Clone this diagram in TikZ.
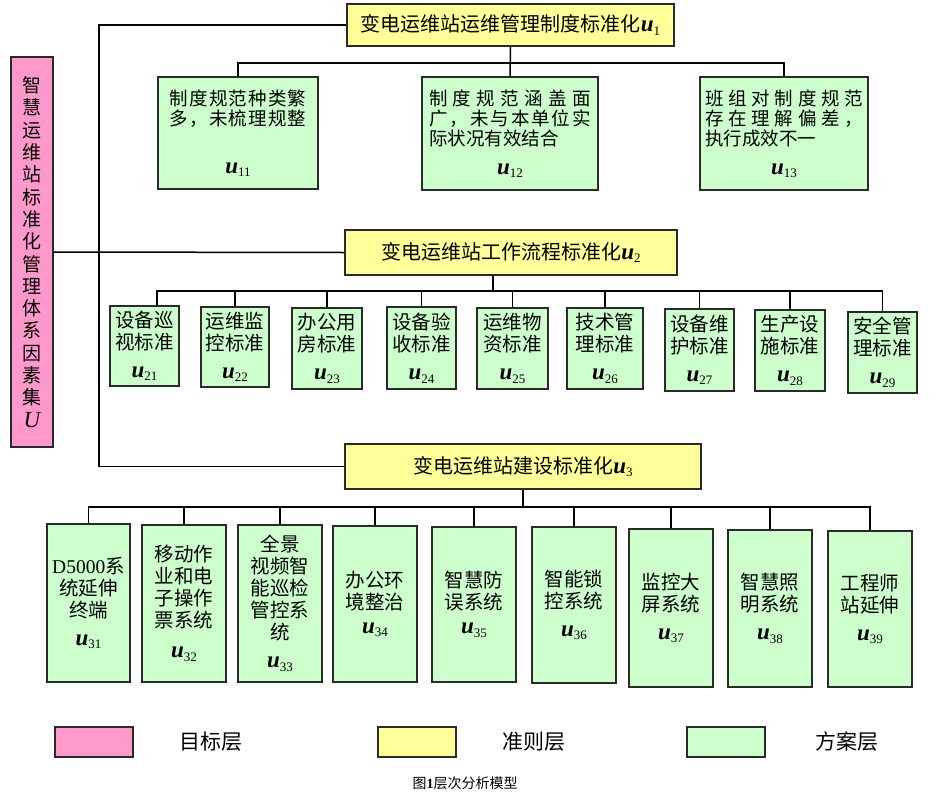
\documentclass[tikz,border=0pt]{standalone}
\usepackage{fontspec}
\setmainfont{Liberation Serif}
\newfontfamily\cjk{Noto Sans CJK SC}
\definecolor{pinkf}{HTML}{FF99CC}
\definecolor{yelf}{HTML}{FFFF99}
\definecolor{grnf}{HTML}{CCFFCC}
\definecolor{edgec}{HTML}{2A2A2A}
\newcommand\ulab[1]{{\rmfamily\fontsize{23}{23}\selectfont\bfseries\itshape u}{\rmfamily\fontsize{13}{13}\selectfont\raisebox{-3.5pt}{#1}}}
\tikzset{
  basebox/.style={draw=edgec, line width=1.5pt, inner sep=0pt, align=center},
  ybox/.style={basebox, fill=yelf, font=\cjk\fontsize{20}{22}\selectfont},
  gbox/.style={basebox, fill=grnf, font=\cjk\fontsize{19.5}{22}\selectfont},
  g1box/.style={basebox, fill=grnf, font=\cjk\fontsize{18.5}{20}\selectfont},
  pbox/.style={basebox, fill=pinkf, font=\cjk\fontsize{19}{22.3}\selectfont},
  conn/.style={line width=1.5pt, black},
  legbox/.style={draw=edgec, line width=2pt, minimum width=78pt, minimum height=30pt, inner sep=0pt},
  legtext/.style={font=\cjk\fontsize{21}{23}\selectfont, inner sep=0pt}
}
\begin{document}
\begin{tikzpicture}[x=1pt,y=-1pt]
\useasboundingbox[fill=white] (0,0) rectangle (933,795);

% top level
\node[ybox, minimum width=327pt, minimum height=42pt] (u1) at (510.5,25) {变电运维站运维管理制度标准化\ulab{1}};
\node[ybox, minimum width=332pt, minimum height=45pt] (u2) at (511,252.5) {变电运维站工作流程标准化\ulab{2}};
\node[ybox, minimum width=356pt, minimum height=45pt] (u3) at (523,466.5) {变电运维站建设标准化\ulab{3}};
\node[pbox, minimum width=42pt, minimum height=390pt] (U) at (32,252) {智\\慧\\运\\维\\站\\标\\准\\化\\管\\理\\体\\系\\因\\素\\集\\{\rmfamily\fontsize{23}{23}\selectfont\itshape U}};

% row 1
\node[g1box, minimum width=160pt, minimum height=112pt] (u11) at (238,133)
  {\makebox[137pt]{制\hfill 度\hfill 规\hfill 范\hfill 种\hfill 类\hfill 繁}\\
   \makebox[137pt]{多\hfill ，\hfill 未\hfill 梳\hfill 理\hfill 规\hfill 整}\\[28pt]
   \ulab{11}};
\node[g1box, minimum width=176pt, minimum height=113pt] (u12) at (510,133.5)
  {\makebox[162pt]{制\hfill 度\hfill 规\hfill 范\hfill 涵\hfill 盖\hfill 面}\\
   \makebox[162pt]{广\hfill ，\hfill 未\hfill 与\hfill 本\hfill 单\hfill 位\hfill 实}\\
   \makebox[162pt][l]{际状况有效结合}\\[9pt]
   \ulab{12}};
\node[g1box, minimum width=168pt, minimum height=113pt] (u13) at (784,133.5)
  {\makebox[158pt]{班\hfill 组\hfill 对\hfill 制\hfill 度\hfill 规\hfill 范}\\
   \makebox[158pt]{存\hfill 在\hfill 理\hfill 解\hfill 偏\hfill 差\hfill ，}\\
   \makebox[158pt][l]{执行成效不一}\\[9pt]
   \ulab{13}};

% row 2
\node[gbox, minimum width=69pt, minimum height=80pt] (u21) at (144.5,346) {设备巡\\视标准\\[6pt]\ulab{21}};
\node[gbox, minimum width=68pt, minimum height=80pt] (u22) at (235,347) {运维监\\控标准\\[6pt]\ulab{22}};
\node[gbox, minimum width=70pt, minimum height=81pt] (u23) at (327,348.5) {办公用\\房标准\\[6pt]\ulab{23}};
\node[gbox, minimum width=69pt, minimum height=82pt] (u24) at (421.5,348) {设备验\\收标准\\[6pt]\ulab{24}};
\node[gbox, minimum width=71pt, minimum height=81pt] (u25) at (512.5,348.5) {运维物\\资标准\\[6pt]\ulab{25}};
\node[gbox, minimum width=76pt, minimum height=81pt] (u26) at (605,348.5) {技术管\\理标准\\[6pt]\ulab{26}};
\node[gbox, minimum width=69pt, minimum height=82pt] (u27) at (699.5,350) {设备维\\护标准\\[6pt]\ulab{27}};
\node[gbox, minimum width=70pt, minimum height=81pt] (u28) at (790,350.5) {生产设\\施标准\\[6pt]\ulab{28}};
\node[gbox, minimum width=69pt, minimum height=81pt] (u29) at (882.5,352.5) {安全管\\理标准\\[6pt]\ulab{29}};

% row 3
\node[gbox, minimum width=83pt, minimum height=158pt] (u31) at (88.5,603) {{\rmfamily D5000}系\\统延伸\\终端\\[6pt]\ulab{31}};
\node[gbox, minimum width=84pt, minimum height=157pt] (u32) at (184,603.5) {移动作\\业和电\\子操作\\票系统\\[8pt]\ulab{32}};
\node[gbox, minimum width=84pt, minimum height=157pt] (u33) at (280,603.5) {全景\\视频智\\能巡检\\管控系\\统\\[6pt]\ulab{33}};
\node[gbox, minimum width=84pt, minimum height=156pt] (u34) at (375,604) {办公环\\境整治\\[2pt]\ulab{34}};
\node[gbox, minimum width=84pt, minimum height=155pt] (u35) at (474,604.5) {智慧防\\误系统\\[2pt]\ulab{35}};
\node[gbox, minimum width=84pt, minimum height=156pt] (u36) at (574,605) {智能锁\\控系统\\[6pt]\ulab{36}};
\node[gbox, minimum width=84pt, minimum height=158pt] (u37) at (671,608) {监控大\\屏系统\\[6pt]\ulab{37}};
\node[gbox, minimum width=84pt, minimum height=157pt] (u38) at (770,608.5) {智慧照\\明系统\\[6pt]\ulab{38}};
\node[gbox, minimum width=84pt, minimum height=156pt] (u39) at (870,609) {工程师\\站延伸\\[6pt]\ulab{39}};

% connectors
\coordinate (sp) at (99,0);
\coordinate (b1) at (0,63);
\coordinate (b2) at (0,291);
\coordinate (b3) at (0,507);
\draw[conn] (u1.west) -| (sp |- u3.west) -- (u3.west);
\draw[conn] (U.east) -- (u2.west);
% row 1
\draw[conn] (u1.south) -- (u12.north);
\draw[conn] (u11.north) -- (u11.north |- b1) -- (u13.north |- b1) -- (u13.north);
% row 2
\draw[conn] ([xshift=-18pt]u2.south) -- ([xshift=-18pt]u2.south |- b2);
\draw[conn] ([xshift=12.5pt]u21.north) -- ([xshift=12.5pt]u21.north |- b2) -- (u29.north |- b2) -- (u29.north);
\foreach \n in {u22,u23,u24,u25,u26,u27,u28}{
  \draw[conn] (\n.north) -- (\n.north |- b2);
}
% row 3
\draw[conn] (u3.south) -- (u3.south |- b3);
\draw[conn] (u31.north) -- (u31.north |- b3) -- (u39.north |- b3) -- (u39.north);
\foreach \n in {u32,u33,u34,u35,u36,u37,u38}{
  \draw[conn] (\n.north) -- (\n.north |- b3);
}

% legend
\node[legbox, fill=pinkf] (l1) at (94,742) {};
\node[legtext] (t1) at (211,742) {目标层};
\node[legbox, fill=yelf] (l2) at (417,742) {};
\node[legtext] (t2) at (534,742) {准则层};
\node[legbox, fill=grnf] (l3) at (726,742) {};
\node[legtext] (t3) at (847,742) {方案层};
\node[font=\cjk\fontsize{14}{16}\selectfont, inner sep=0pt] (cap) at (465,783) {图{\rmfamily\bfseries 1}层次分析模型};
\end{tikzpicture}
\end{document}
